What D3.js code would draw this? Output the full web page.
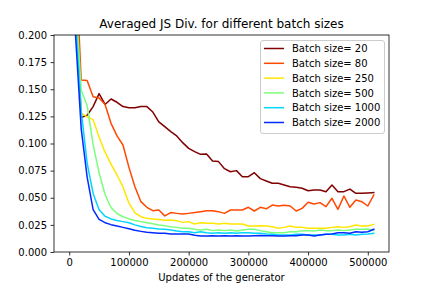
<!DOCTYPE html>
<html>
<head>
<meta charset="utf-8">
<script src="https://cdn.jsdelivr.net/npm/d3@7"></script>
<style>
  body { margin: 0; background: #fff; }
  svg { font-family: "DejaVu Sans", sans-serif; }
</style>
</head>
<body>
<svg id="chart" width="432" height="288"></svg>
<script>
// sampling points (updates of the generator)
var updates = [0, 10000, 20000, 30000, 40000, 50000, 60000, 70000, 80000, 90000,
  100000, 110000, 120000, 130000, 140000, 150000, 160000, 170000, 180000, 190000,
  200000, 210000, 220000, 230000, 240000, 250000, 260000, 270000, 280000, 290000,
  300000, 310000, 320000, 330000, 340000, 350000, 360000, 370000, 380000, 390000,
  400000, 410000, 420000, 430000, 440000, 450000, 460000, 470000, 480000, 490000,
  500000, 510000];

var batchSizes = [20, 80, 250, 500, 1000, 2000];

var jsBatch20 = [0.45, 0.26, 0.124, 0.126, 0.134, 0.146, 0.136, 0.141, 0.138, 0.134,
  0.133, 0.133, 0.134, 0.134, 0.129, 0.120, 0.1155, 0.111, 0.107, 0.1008,
  0.0955, 0.0925, 0.090, 0.0903, 0.0839, 0.0833, 0.0768, 0.074, 0.075, 0.0694,
  0.0694, 0.0731, 0.0676, 0.0655, 0.0633, 0.0633, 0.0618, 0.0602, 0.0596, 0.0587,
  0.0565, 0.0571, 0.0571, 0.0556, 0.0618, 0.0556, 0.0556, 0.058, 0.0541, 0.0541,
  0.0544, 0.0547];

var jsBatch80 = [0.5, 0.28, 0.1585, 0.158, 0.143, 0.142, 0.136, 0.1186, 0.107, 0.0986,
  0.078, 0.0602, 0.0464, 0.0412, 0.0381, 0.0387, 0.0333, 0.0363, 0.0356, 0.035,
  0.0356, 0.0363, 0.0372, 0.0381, 0.0381, 0.0372, 0.0356, 0.0387, 0.0387, 0.0387,
  0.0412, 0.0378, 0.0412, 0.0398, 0.0433, 0.0424, 0.043, 0.0424, 0.0378, 0.0402,
  0.0458, 0.0442, 0.0455, 0.0418, 0.0495, 0.0393, 0.0516, 0.0412, 0.0479, 0.0464,
  0.0424, 0.0525];

var jsBatch250 = [0.45, 0.236, 0.128, 0.1245, 0.122, 0.106, 0.092, 0.081, 0.071, 0.060,
  0.045, 0.036, 0.0325, 0.031, 0.0305, 0.030, 0.0292, 0.0295, 0.0289, 0.0273,
  0.028, 0.0258, 0.027, 0.0264, 0.0264, 0.0258, 0.0264, 0.0258, 0.0258, 0.0258,
  0.024, 0.024, 0.0243, 0.024, 0.0233, 0.0218, 0.0227, 0.024, 0.0227, 0.0227,
  0.0218, 0.0218, 0.0218, 0.0218, 0.0227, 0.0233, 0.0227, 0.0233, 0.0249, 0.024,
  0.024, 0.0255];

var jsBatch500 = [0.45, 0.242, 0.149, 0.135, 0.099, 0.073, 0.053, 0.041, 0.0355, 0.0325,
  0.0305, 0.029, 0.028, 0.027, 0.0261, 0.0249, 0.0243, 0.0233, 0.0227, 0.0218,
  0.0218, 0.0209, 0.0203, 0.0209, 0.0197, 0.0203, 0.0197, 0.0203, 0.0194, 0.0203,
  0.0209, 0.0209, 0.0197, 0.0187, 0.0178, 0.0178, 0.0178, 0.0187, 0.0187, 0.0197,
  0.0197, 0.0194, 0.0203, 0.0197, 0.0197, 0.0203, 0.0197, 0.0203, 0.0209, 0.0209,
  0.0212, 0.0197];

var jsBatch1000 = [0.45, 0.221, 0.13, 0.082, 0.054, 0.039, 0.033, 0.0305, 0.029, 0.028,
  0.027, 0.025, 0.0235, 0.0224, 0.0218, 0.0212, 0.0209, 0.0203, 0.0194, 0.0187,
  0.0187, 0.0178, 0.0187, 0.0178, 0.0172, 0.0178, 0.0172, 0.0178, 0.0172, 0.0178,
  0.0178, 0.0172, 0.0172, 0.0166, 0.0163, 0.0157, 0.0157, 0.0157, 0.0163, 0.0163,
  0.0157, 0.0157, 0.0157, 0.0163, 0.0163, 0.0157, 0.0157, 0.0163, 0.0157, 0.0163,
  0.0166, 0.0172];

var jsBatch2000 = [0.45, 0.205, 0.114, 0.069, 0.039, 0.030, 0.027, 0.0252, 0.024, 0.0227,
  0.0215, 0.020, 0.019, 0.0181, 0.0178, 0.0172, 0.0172, 0.0166, 0.0166, 0.0166,
  0.0166, 0.0155, 0.0147, 0.0148, 0.015, 0.0147, 0.015, 0.0148, 0.015, 0.0148,
  0.0148, 0.015, 0.0152, 0.015, 0.015, 0.0147, 0.0147, 0.015, 0.015, 0.0157,
  0.0157, 0.0147, 0.0157, 0.0163, 0.0166, 0.0178, 0.0178, 0.0172, 0.0187, 0.0181,
  0.0187, 0.0209];

var yTicks = [0, 0.025, 0.05, 0.075, 0.1, 0.125, 0.15, 0.175, 0.2];
var xTicks = [0, 100000, 200000, 300000, 400000, 500000];

var allSeries = [jsBatch20, jsBatch80, jsBatch250, jsBatch500, jsBatch1000, jsBatch2000];

// matplotlib "jet" segment data
var jetR = d3.scaleLinear().domain([0, 0.35, 0.66, 0.89, 1]).range([0, 0, 1, 1, 0.5]);
var jetG = d3.scaleLinear().domain([0, 0.125, 0.375, 0.64, 0.91, 1]).range([0, 0, 1, 1, 0, 0]);
var jetB = d3.scaleLinear().domain([0, 0.11, 0.34, 0.65, 1]).range([0.5, 1, 1, 0, 0]);
function jet(v) {
  return d3.rgb(jetR(v) * 255, jetG(v) * 255, jetB(v) * 255).formatHex();
}
var colors = batchSizes.map(function(d, i) { return jet(1 - i / 6); });

var margin = {left: 54, right: 389, top: 35, bottom: 252};
var svg = d3.select('#chart');

// matplotlib style 5% padding on x
var ext = d3.extent(updates);
var pad = (ext[1] - ext[0]) * 0.05;
var x = d3.scaleLinear().domain([ext[0] - pad, ext[1] + pad]).range([margin.left, margin.right]);
var y = d3.scaleLinear().domain([0, 0.2]).range([margin.bottom, margin.top]);

svg.append('defs').append('clipPath').attr('id', 'plotclip')
  .append('rect')
    .attr('x', margin.left).attr('y', margin.top)
    .attr('width', margin.right - margin.left)
    .attr('height', margin.bottom - margin.top);

var line = d3.line()
  .x(function(d, i) { return x(updates[i]); })
  .y(function(d) { return y(d); });

var plot = svg.append('g').attr('clip-path', 'url(#plotclip)');
allSeries.forEach(function(s, i) {
  plot.append('path')
    .attr('d', line(s))
    .attr('fill', 'none')
    .attr('stroke', colors[i])
    .attr('stroke-width', 1.5)
    .attr('stroke-linejoin', 'round')
    .attr('stroke-linecap', 'square');
});

// axes
var xAxis = d3.axisBottom(x).tickValues(xTicks).tickFormat(d3.format('d')).tickSize(3.5).tickPadding(3.5);
var yAxis = d3.axisLeft(y).tickValues(yTicks).tickFormat(d3.format('.3f')).tickSize(3.5).tickPadding(3.5);

var gx = svg.append('g').attr('transform', 'translate(0,' + margin.bottom + ')').call(xAxis);
var gy = svg.append('g').attr('transform', 'translate(' + margin.left + ',0)').call(yAxis);
[gx, gy].forEach(function(g) {
  g.select('.domain').remove();
  g.selectAll('.tick line').attr('stroke', '#000').attr('stroke-width', 0.8);
  g.selectAll('.tick text').attr('fill', '#000').style('font-size', '10px')
    .style('font-family', '"DejaVu Sans", sans-serif');
});

// frame
svg.append('rect')
  .attr('x', margin.left).attr('y', margin.top)
  .attr('width', margin.right - margin.left)
  .attr('height', margin.bottom - margin.top)
  .attr('fill', 'none').attr('stroke', '#000').attr('stroke-width', 0.8);

// title and label
svg.append('text')
  .attr('x', (margin.left + margin.right) / 2).attr('y', 28)
  .attr('text-anchor', 'middle').style('font-size', '12px')
  .text('Averaged JS Div. for different batch sizes');

svg.append('text')
  .attr('x', (margin.left + margin.right) / 2).attr('y', 281)
  .attr('text-anchor', 'middle').style('font-size', '10px')
  .text('Updates of the generator');

// legend
var legend = svg.append('g');
legend.append('rect')
  .attr('x', 260.5).attr('y', 40.5).attr('width', 124).attr('height', 93)
  .attr('rx', 2.5)
  .attr('fill', '#fff').attr('fill-opacity', 0.8)
  .attr('stroke', '#cccccc').attr('stroke-width', 1);

batchSizes.forEach(function(b, i) {
  var ly = 48.5 + i * 14.8;
  legend.append('line')
    .attr('x1', 264).attr('x2', 284).attr('y1', ly).attr('y2', ly)
    .attr('stroke', colors[i]).attr('stroke-width', 1.5);
  legend.append('text')
    .attr('x', 292).attr('y', ly + 3.6)
    .style('font-size', '10px')
    .text('Batch size= ' + b);
});
</script>
</body>
</html>
